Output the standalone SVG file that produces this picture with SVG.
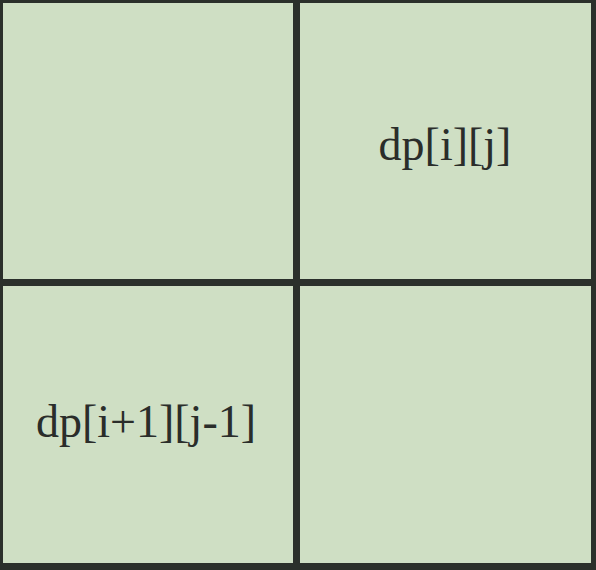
<svg xmlns="http://www.w3.org/2000/svg" width="596" height="570" viewBox="0 0 596 570">
<style>
.cell{fill:#cfdfc4;}
.ln{stroke:#2b302b;fill:none;}
.t{font-family:"Liberation Serif","Times New Roman",serif;font-size:46px;fill:#2a2d2a;text-anchor:middle;}
</style>
<rect x="0" y="0" width="596" height="570" fill="#2b302b"/>
<g id="cell-0-0"><rect class="cell" x="3" y="3" width="290" height="276"/></g>
<g id="cell-0-1"><rect class="cell" x="300" y="3" width="291" height="276"/><text class="t" x="445" y="160">dp[i][j]</text></g>
<g id="cell-1-0"><rect class="cell" x="3" y="286" width="290" height="277"/><text class="t" x="146" y="437">dp[i+1][j-1]</text></g>
<g id="cell-1-1"><rect class="cell" x="300" y="286" width="291" height="277"/></g>
<g id="connectors"></g>
</svg>
